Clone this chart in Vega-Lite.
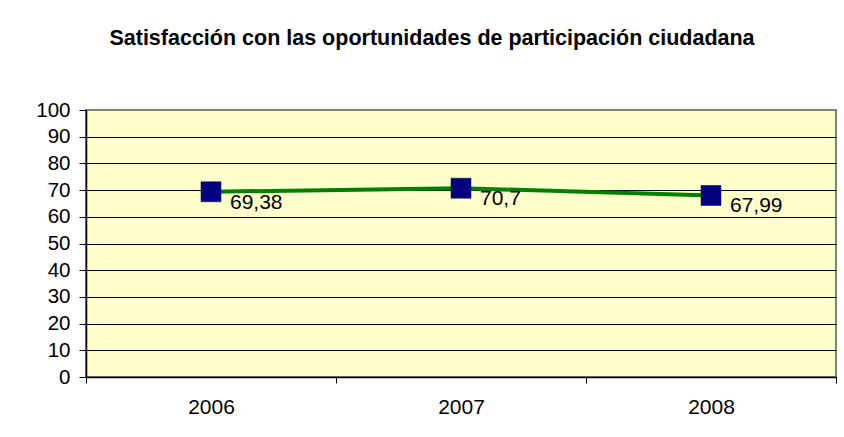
{
  "$schema": "https://vega.github.io/schema/vega-lite/v6.json",
  "width": 750,
  "height": 267,
  "autosize": {"type": "none"},
  "padding": {"left": 86, "top": 110, "right": 8, "bottom": 60},
  "background": "white",
  "title": {
    "text": "Satisfacción con las oportunidades de participación ciudadana",
    "font": "Liberation Sans",
    "fontSize": 21.5,
    "fontWeight": "bold",
    "color": "black",
    "anchor": "middle",
    "baseline": "alphabetic",
    "offset": 34,
    "dx": -29
  },
  "config": {
    "view": {"fill": "#FFFFCC", "stroke": "#808080", "strokeWidth": 2},
    "font": "Liberation Sans"
  },
  "data": {
    "values": [
      {"year": "2006", "value": 69.38, "label": "69,38"},
      {"year": "2007", "value": 70.7, "label": "70,7"},
      {"year": "2008", "value": 67.99, "label": "67,99"}
    ]
  },
  "encoding": {
    "x": {
      "field": "year",
      "type": "ordinal",
      "scale": {"type": "band", "paddingInner": 0, "paddingOuter": 0},
      "axis": {
        "title": null,
        "labelAngle": 0,
        "labelFont": "Liberation Sans",
        "labelFontSize": 21,
        "labelColor": "black",
        "labelPadding": 13,
        "tickBand": "extent",
        "tickSize": 6,
        "tickColor": "black",
        "domainColor": "black",
        "domainWidth": 1.5,
        "grid": false
      }
    },
    "y": {
      "field": "value",
      "type": "quantitative",
      "scale": {"domain": [0, 100], "nice": false, "zero": true},
      "axis": {
        "title": null,
        "values": [0, 10, 20, 30, 40, 50, 60, 70, 80, 90, 100],
        "labelFont": "Liberation Sans",
        "labelFontSize": 20.5,
        "labelColor": "black",
        "labelPadding": 9,
        "tickSize": 7,
        "tickColor": "black",
        "domainColor": "black",
        "domainWidth": 1.5,
        "grid": true,
        "gridColor": {"condition": {"test": "datum.value === 100", "value": "#808080"}, "value": "black"},
        "gridWidth": 1,
        "gridOpacity": 1
      }
    }
  },
  "layer": [
    {"mark": {"type": "line", "color": "#008000", "strokeWidth": 4}},
    {"mark": {"type": "point", "shape": "square", "filled": true, "size": 400, "fill": "#000080", "stroke": "#000060", "strokeWidth": 0.5, "opacity": 1}},
    {
      "mark": {"type": "text", "align": "left", "baseline": "alphabetic", "dx": 19, "dy": 17, "fontSize": 21, "font": "Liberation Sans", "color": "black"},
      "encoding": {"text": {"field": "label"}}
    }
  ]
}
